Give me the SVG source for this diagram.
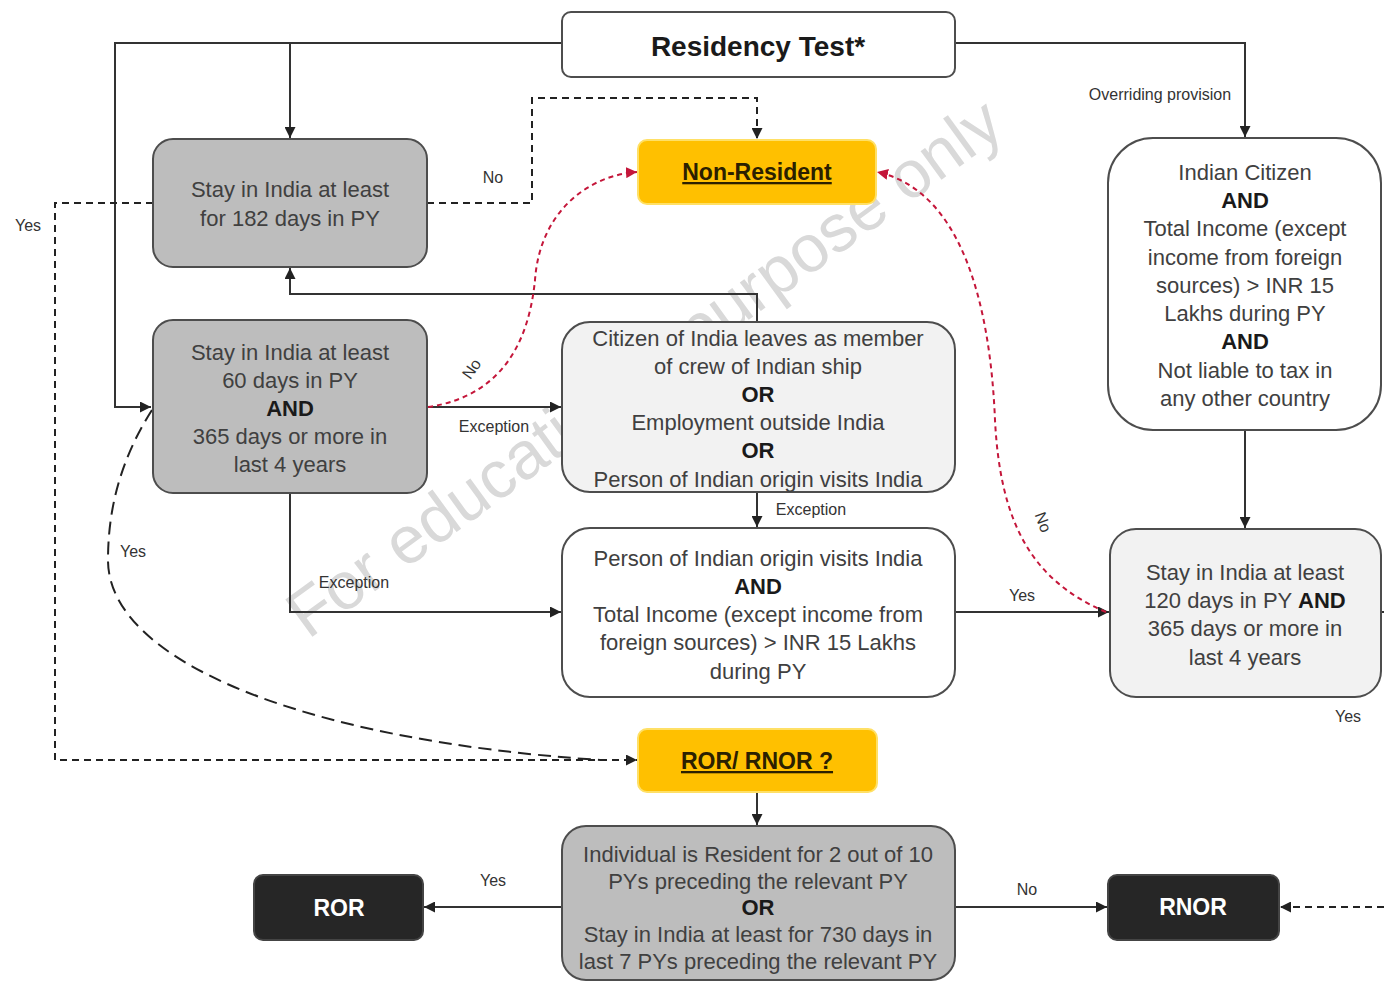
<svg xmlns="http://www.w3.org/2000/svg" width="1384" height="982" viewBox="0 0 1384 982">
<defs>
<marker id="ah" viewBox="0 0 10 10" refX="10" refY="5" markerWidth="11" markerHeight="11" markerUnits="userSpaceOnUse" orient="auto"><path d="M0,0 L10,5 L0,10 z" fill="#222"/></marker>
<marker id="ahr" viewBox="0 0 10 10" refX="10" refY="5" markerWidth="11" markerHeight="11" markerUnits="userSpaceOnUse" orient="auto"><path d="M0,0 L10,5 L0,10 z" fill="#c4163a"/></marker>
</defs>
<style>
.box{stroke:#4d4d4d;stroke-width:2}
.gray{fill:#bdbdbd}
.light{fill:#f2f2f2}
.white{fill:#ffffff}
.gold{fill:#ffc000;stroke:#ffe066;stroke-width:2}
.dark{fill:#262626;stroke:#444;stroke-width:2}
.t{font-family:"Liberation Sans",Arial,sans-serif;font-size:22px;fill:#404040;text-anchor:middle}
.b{font-weight:bold;fill:#1a1a1a}
.lbl{font-family:"Liberation Sans",Arial,sans-serif;font-size:16px;fill:#333;text-anchor:middle}
.hd{font-family:"Liberation Sans",Arial,sans-serif;font-weight:bold;font-size:23px;fill:#2b2000;text-anchor:middle;text-decoration:underline}
.wt{font-family:"Liberation Sans",Arial,sans-serif;font-weight:bold;font-size:23px;fill:#ffffff;text-anchor:middle}
.s{fill:none;stroke:#333;stroke-width:2}
.d{fill:none;stroke:#222;stroke-width:2;stroke-dasharray:7 5}
.ld{fill:none;stroke:#222;stroke-width:2;stroke-dasharray:13 7}
.r{fill:none;stroke:#c4163a;stroke-width:2;stroke-dasharray:5 4}
</style>
<rect width="1384" height="982" fill="#ffffff"/>

<g id="watermark">
<text transform="translate(308 640) rotate(-36)" style="font-family:'Liberation Sans',Arial,sans-serif;font-size:67px;fill:#d9d9d9">For educational purpose only</text>
</g>

<g id="connectors">
<path class="s" d="M562 43 H115 V407 H151" marker-end="url(#ah)"/>
<path class="s" d="M290 43 V138" marker-end="url(#ah)"/>
<path class="s" d="M955 43 H1245 V137" marker-end="url(#ah)"/>
<path class="s" d="M427 407 H561" marker-end="url(#ah)"/>
<path class="s" d="M757 322 V294 H290 V268" marker-end="url(#ah)"/>
<path class="s" d="M757 492 V527" marker-end="url(#ah)"/>
<path class="s" d="M290 493 V612 H561" marker-end="url(#ah)"/>
<path class="s" d="M955 612 H1109" marker-end="url(#ah)"/>
<path class="s" d="M1245 430 V528" marker-end="url(#ah)"/>
<path class="s" d="M1381 612 H1384"/>
<path class="s" d="M757 792 V825" marker-end="url(#ah)"/>
<path class="s" d="M562 907 H424" marker-end="url(#ah)"/>
<path class="s" d="M955 907 H1107" marker-end="url(#ah)"/>
<path class="d" d="M427 203 H532 V98 H757 V139" marker-end="url(#ah)"/>
<path class="d" d="M153 203 H55 V760 H637" marker-end="url(#ah)"/>
<path class="d" d="M1384 907 H1280" marker-end="url(#ah)"/>
<path class="ld" d="M152 410 C120 460,108 510,108 560 C108 660,300 740,600 760"/>
<path class="r" d="M428 407 C510 395,530 330,535 280 C540 210,590 175,637 172" marker-end="url(#ahr)"/>
<path class="r" d="M1106 612 C1030 580,1000 520,995 420 C990 300,960 190,877 172" marker-end="url(#ahr)"/>
<text class="lbl" x="493" y="183">No</text>
<text class="lbl" x="28" y="231">Yes</text>
<text class="lbl" x="1160" y="100">Overriding provision</text>
<text class="lbl" x="494" y="432">Exception</text>
<text class="lbl" x="811" y="515">Exception</text>
<text class="lbl" x="354" y="588">Exception</text>
<text class="lbl" x="1022" y="601">Yes</text>
<text class="lbl" x="133" y="557">Yes</text>
<text class="lbl" x="1348" y="722">Yes</text>
<text class="lbl" x="493" y="886">Yes</text>
<text class="lbl" x="1027" y="895">No</text>
<text class="lbl" transform="translate(476 372) rotate(-55)">No</text>
<text class="lbl" transform="translate(1038 524) rotate(70)">No</text>
</g>

<g id="residency-test">
<rect class="box white" x="562" y="12" width="393" height="65" rx="9"/>
<text class="t b" x="758" y="56" style="font-size:28px">Residency Test*</text>
</g>

<g id="stay-182">
<rect class="box gray" x="153" y="139" width="274" height="128" rx="20"/>
<text class="t" x="290" y="197">Stay in India at least</text>
<text class="t" x="290" y="226">for 182 days in PY</text>
</g>

<g id="non-resident">
<rect class="gold" x="638" y="140" width="238" height="64" rx="9"/>
<text class="hd" x="757" y="180">Non-Resident</text>
</g>

<g id="stay-60">
<rect class="box gray" x="153" y="320" width="274" height="173" rx="20"/>
<text class="t" x="290" y="360">Stay in India at least</text>
<text class="t" x="290" y="388">60 days in PY</text>
<text class="t b" x="290" y="416">AND</text>
<text class="t" x="290" y="444">365 days or more in</text>
<text class="t" x="290" y="472">last 4 years</text>
</g>

<g id="exceptions">
<rect class="box light" x="562" y="322" width="393" height="170" rx="28"/>
<text class="t" x="758" y="346">Citizen of India leaves as member</text>
<text class="t" x="758" y="374">of crew of Indian ship</text>
<text class="t b" x="758" y="402">OR</text>
<text class="t" x="758" y="430">Employment outside India</text>
<text class="t b" x="758" y="458">OR</text>
<text class="t" x="758" y="487">Person of Indian origin visits India</text>
</g>

<g id="pio-income">
<rect class="box white" x="562" y="528" width="393" height="169" rx="28"/>
<text class="t" x="758" y="566">Person of Indian origin visits India</text>
<text class="t b" x="758" y="594">AND</text>
<text class="t" x="758" y="622">Total Income (except income from</text>
<text class="t" x="758" y="650">foreign sources)  &gt; INR 15 Lakhs</text>
<text class="t" x="758" y="679">during PY</text>
</g>

<g id="indian-citizen">
<rect class="box white" x="1108" y="138" width="273" height="292" rx="45"/>
<text class="t" x="1245" y="180">Indian Citizen</text>
<text class="t b" x="1245" y="208">AND</text>
<text class="t" x="1245" y="236">Total Income (except</text>
<text class="t" x="1245" y="265">income from foreign</text>
<text class="t" x="1245" y="293">sources)  &gt; INR 15</text>
<text class="t" x="1245" y="321">Lakhs during PY</text>
<text class="t b" x="1245" y="349">AND</text>
<text class="t" x="1245" y="378">Not liable to tax in</text>
<text class="t" x="1245" y="406">any other country</text>
</g>

<g id="stay-120">
<rect class="box light" x="1110" y="529" width="271" height="168" rx="26"/>
<text class="t" x="1245" y="580">Stay in India at least</text>
<text class="t" x="1245" y="608">120 days in PY <tspan class="b">AND</tspan></text>
<text class="t" x="1245" y="636">365 days or more in</text>
<text class="t" x="1245" y="665">last 4 years</text>
</g>

<g id="ror-rnor">
<rect class="gold" x="638" y="729" width="239" height="63" rx="9"/>
<text class="hd" x="757" y="769">ROR/ RNOR ?</text>
</g>

<g id="ror-test">
<rect class="box gray" x="562" y="826" width="393" height="154" rx="24"/>
<text class="t" x="758" y="862">Individual is Resident for 2 out of 10</text>
<text class="t" x="758" y="889">PYs preceding the relevant PY</text>
<text class="t b" x="758" y="915">OR</text>
<text class="t" x="758" y="942">Stay in India at least for 730 days in</text>
<text class="t" x="758" y="969">last 7 PYs preceding the relevant PY</text>
</g>

<g id="ror">
<rect class="dark" x="254" y="875" width="169" height="65" rx="9"/>
<text class="wt" x="339" y="916">ROR</text>
</g>

<g id="rnor">
<rect class="dark" x="1108" y="875" width="171" height="65" rx="9"/>
<text class="wt" x="1193" y="915">RNOR</text>
</g>
</svg>
